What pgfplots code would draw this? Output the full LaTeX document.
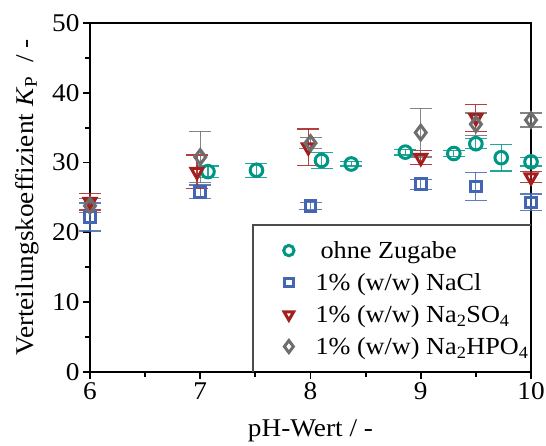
\documentclass[border=0pt]{standalone}
\usepackage{fontspec}
\setmainfont{Liberation Serif}[FakeStretch=1.07]
\usepackage{pgfplots}
\pgfplotsset{compat=1.18}

\definecolor{cteal}{RGB}{0,150,134}
\definecolor{cblue}{RGB}{68,102,178}
\definecolor{cred}{RGB}{165,30,30}
\definecolor{cgray}{RGB}{110,110,110}

\newcommand{\bigfont}{\fontsize{25.5bp}{30bp}\selectfont}
\newcommand{\legfont}{\fontsize{24.5bp}{28bp}\selectfont}

\begin{document}
\begin{tikzpicture}[font=\bigfont]
\begin{axis}[
  scale only axis, width=441bp, height=349bp,
  xmin=6, xmax=10, ymin=0, ymax=50,
  xtick={6,7,8,9,10}, ytick={0,10,20,30,40,50},
  minor x tick num=1, minor y tick num=1,
  tick align=outside, xtick pos=bottom, ytick pos=left,
  major tick length=7bp, minor tick length=5bp,
  axis line style={line width=2bp},
  every tick/.style={black, line width=1.8bp},
  /pgf/number format/assume math mode=true,
  xlabel={pH-Wert / -},
  ylabel={Verteilungskoeffizient \textit{K}\textsubscript{P}\ \ / -},
  xlabel style={at={(axis description cs:0.5,-0.186)}, anchor=base},
  ylabel style={at={(axis description cs:-0.129,0.5)}, anchor=base, rotate=0},
  clip=false,
  legend cell align=left,
  legend style={at={(rel axis cs:0.432,0.385)}, anchor=north west, draw=none, fill=none,
    font=\legfont, row sep=10.5bp, nodes={inner sep=1.5bp},
    /tikz/every odd column/.append style={column sep=20bp}},
  legend image post style={every mark/.append style={scale=0.82}},
  error bars/y dir=both, error bars/y explicit,
  error bars/error mark=-,
  error bars/error bar style={line width=1.2bp, opacity=0.85},
  error bars/error mark options={line width=1.2bp, mark size=11bp, rotate=90, opacity=0.85},
]

% legend frame
\draw[line width=1.5bp, black!70] (rel axis cs:0.37,0) -- (rel axis cs:0.37,0.421) -- (rel axis cs:1,0.421);

% ohne Zugabe
\addplot[only marks, mark=o, mark size=6.3bp, line width=3bp, color=cteal]
  table[row sep=\\, y error=e] {
  x y e \\
  7.07 28.7 0.8 \\
  7.51 28.9 1.0 \\
  8.10 30.3 1.2 \\
  8.37 29.8 0.3 \\
  8.86 31.5 0.4 \\
  9.30 31.3 0.4 \\
  9.50 32.7 0.7 \\
  9.73 30.7 1.9 \\
  10.0 30.1 0.6 \\
};
\addlegendentry{\hspace{5bp}ohne Zugabe}

% 1% NaCl
\addplot[only marks, mark=square, mark size=5.3bp, line width=3bp, color=cblue]
  table[row sep=\\, y error=e] {
  x y e \\
  6.0 22.2 2.0 \\
  7.0 25.8 1.0 \\
  8.0 23.8 0.5 \\
  9.0 26.9 0.7 \\
  9.5 26.6 2.0 \\
  10.0 24.3 1.2 \\
};
\addlegendentry{1\% (w/w) NaCl}

% 1% Na2SO4
\addplot[only marks, mark=triangle, mark options={rotate=180}, mark size=6.8bp, line width=3bp, color=cred]
  table[row sep=\\, y error=e] {
  x y e \\
  6.0 24.4 1.2 \\
  6.97 28.7 2.4 \\
  7.98 32.2 2.6 \\
  9.0 30.7 1.0 \\
  9.5 36.4 1.9 \\
  10.0 27.9 0.8 \\
};
\addlegendentry{1\% (w/w) Na\textsubscript{2}SO\textsubscript{4}}

% 1% Na2HPO4
\addplot[only marks, mark=diamond, mark size=7.3bp, line width=3bp, color=cgray]
  table[row sep=\\, y error=e] {
  x y e \\
  6.0 23.8 1.0 \\
  7.0 30.8 3.7 \\
  8.0 32.8 0.8 \\
  9.0 34.3 3.5 \\
  9.5 35.5 1.6 \\
  10.0 36.1 1.0 \\
};
\addlegendentry{1\% (w/w) Na\textsubscript{2}HPO\textsubscript{4}}

\coordinate (bl) at (rel axis cs:0,0);
\coordinate (tr) at (rel axis cs:1,1);
\end{axis}
\pgfresetboundingbox
\path ([xshift=-90bp,yshift=-74bp]bl) rectangle ([xshift=15bp,yshift=23bp]tr);
\end{tikzpicture}
\end{document}
